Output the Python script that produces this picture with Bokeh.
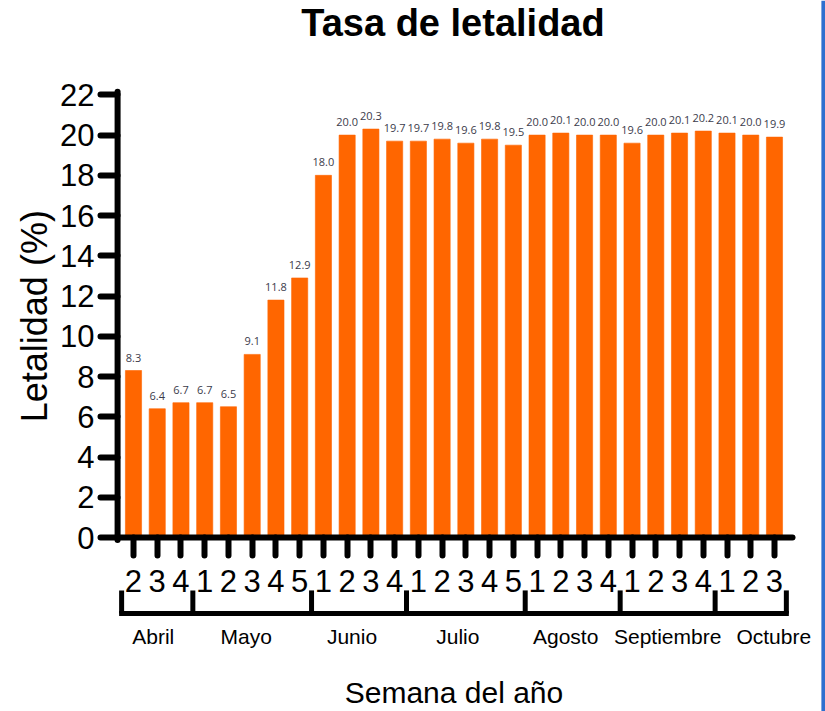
import numpy as np
from bokeh.plotting import figure
from bokeh.models import Range1d, LinearAxis, FixedTicker, ColumnDataSource, Span
from bokeh.core.properties import value
from bokeh.embed import file_html
from bokeh.resources import INLINE

# ---- data ----
months = ["Abril", "Mayo", "Junio", "Julio", "Agosto", "Septiembre", "Octubre"]
weeks = [[2, 3, 4], [1, 2, 3, 4, 5], [1, 2, 3, 4], [1, 2, 3, 4, 5],
         [1, 2, 3, 4], [1, 2, 3, 4], [1, 2, 3]]
letalidad = [8.3, 6.4, 6.7, 6.7, 6.5, 9.1, 11.8, 12.9,
             18.0, 20.0, 20.3, 19.7, 19.7, 19.8, 19.6, 19.8, 19.5,
             20.0, 20.1, 20.0, 20.0, 19.6, 20.0, 20.1, 20.2, 20.1, 20.0, 19.9]
y_ticks = list(range(0, 23, 2))
title_text = "Tasa de letalidad"
y_title = "Letalidad (%)"
x_title = "Semana del año"

# ---- layout tuning (screen px nudges of the month names) ----
month_nudge = [-4, -6, -7, -8, -7, 0, 23]

# ---- derived ----
week_labels = [str(w) for grp in weeks for w in grp]
n = len(letalidad)
idx = list(range(n))
counts = [len(g) for g in weeks]
cum = np.cumsum([0] + counts)
bounds = [float(c) - 0.5 for c in cum]
centers = [(bounds[i] + bounds[i + 1]) / 2 for i in range(len(months))]

FONT = "Liberation Sans"
ORANGE = "#FF6600"

# ranges chosen so the plot frame fills the canvas
p = figure(width=825, height=711,
           x_range=Range1d(-5.602, 29.149), y_range=Range1d(-8.648, 26.690),
           output_backend="svg", toolbar_location=None, min_border=0,
           x_axis_type=None, y_axis_type=None)
p.outline_line_color = None
p.background_fill_color = "white"
p.border_fill_color = "white"

# bars
src = ColumnDataSource(dict(x=idx, top=letalidad,
                            lab=[f"{v:.1f}" for v in letalidad]))
p.vbar(x="x", top="top", width=0.68, bottom=0, source=src,
       fill_color=ORANGE, line_color=ORANGE, line_alpha=0.6)
p.text(x="x", y="top", text="lab", source=src, text_align="center",
       text_baseline="bottom", y_offset=-9, text_font=value("Open Sans"),
       text_font_size="11px", text_color="#3b3b4b")

# axis lines (drawn so that they stop where the reference stops)
YAX = -0.67
p.segment(x0=[YAX], y0=[-0.12], x1=[YAX], y1=[22.15], line_width=6,
          line_color="black", line_cap="round")
p.segment(x0=[-0.72], y0=[0], x1=[27.76], y1=[0], line_width=6,
          line_color="black", line_cap="round")

# y axis
yaxis = LinearAxis(fixed_location=YAX, ticker=FixedTicker(ticks=y_ticks))
yaxis.axis_line_color = None
yaxis.major_tick_in = 0
yaxis.major_tick_out = 17
yaxis.major_tick_line_width = 6
yaxis.major_tick_line_cap = "round"
yaxis.minor_tick_line_color = None
yaxis.major_label_text_font = FONT
yaxis.major_label_text_font_size = "31px"
yaxis.major_label_text_color = "black"
yaxis.major_label_standoff = 6
p.add_layout(yaxis, "left")

# x axis (weeks)
xaxis = LinearAxis(fixed_location=0, ticker=FixedTicker(ticks=idx),
                   major_label_overrides={i: week_labels[i] for i in idx})
xaxis.axis_line_color = None
xaxis.major_tick_in = 0
xaxis.major_tick_out = 18
xaxis.major_tick_line_width = 6
xaxis.major_tick_line_cap = "round"
xaxis.minor_tick_line_color = None
xaxis.major_label_text_font = FONT
xaxis.major_label_text_font_size = "31px"
xaxis.major_label_text_color = "black"
xaxis.major_label_standoff = 14
p.add_layout(xaxis, "below")

# month brackets
BR_Y = -3.78
BR_TOP = -2.63
p.segment(x0=[bounds[0]], y0=[BR_Y], x1=[bounds[-1]], y1=[BR_Y],
          line_width=5, line_color="black", line_cap="square")
p.segment(x0=bounds, y0=[BR_Y] * len(bounds), x1=bounds, y1=[BR_TOP] * len(bounds),
          line_width=5, line_color="black")
msrc = ColumnDataSource(dict(x=centers, y=[BR_Y] * len(months), t=months,
                             dx=month_nudge))
p.text(x="x", y="y", text="t", source=msrc, text_align="center",
       text_baseline="top", x_offset="dx", y_offset=11,
       text_font=value(FONT), text_font_size="21px", text_color="black")

# titles
mid = (n - 1) / 2
p.text(x=[mid], y=[24.9], text=[title_text], text_align="center",
       text_baseline="alphabetic", x_offset=-1, y_offset=-14,
       text_font=value(FONT), text_font_size="38px", text_font_style="bold",
       text_color="black")
p.text(x=[mid], y=[-8.648], text=[x_title], text_align="center",
       text_baseline="alphabetic", y_offset=-19, text_font=value(FONT),
       text_font_size="30px", text_color="black")
p.text(x=[YAX], y=[11], text=[y_title], text_align="center",
       text_baseline="middle", x_offset=-83, angle=np.pi / 2,
       text_font=value(FONT), text_font_size="36px", text_color="black")

# blue frame edge at the right
p.add_layout(Span(location=29.06, dimension="height", line_color="#2E6FCF",
                  line_width=4))

open("out.html", "w").write(file_html(p, INLINE))
